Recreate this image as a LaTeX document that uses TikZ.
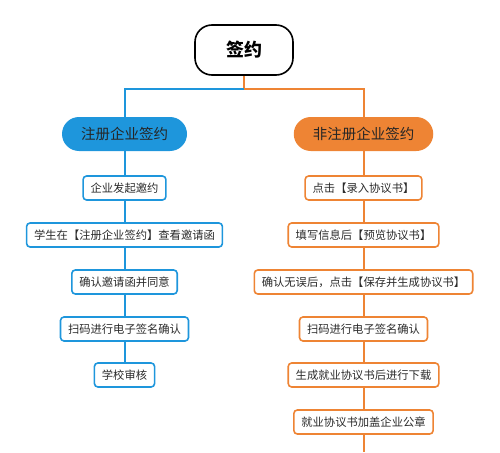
\documentclass[tikz,border=0pt]{standalone}
\usepackage{fontspec}
\setmainfont{Noto Sans CJK SC}
\usepackage{tikz}
\usetikzlibrary{positioning}
\definecolor{qianblue}{HTML}{1E96DC}
\definecolor{qianorange}{HTML}{EE8434}
\definecolor{boxtext}{HTML}{2B2B2B}

\begin{document}
\begin{tikzpicture}[x=1pt,y=-1pt]
\tikzset{rootbox/.style={draw=black,line width=1.6pt,rounded corners=17pt,minimum width=98pt,minimum height=50pt,font=\fontsize{18}{20}\selectfont\bfseries},
headbox/.style={rounded corners=17pt,minimum height=34pt,inner xsep=19pt,font=\fontsize{14.5}{16}\selectfont,text=black!85},
stepbox/.style={draw,fill=white,line width=1.6pt,rounded corners=3.5pt,minimum height=24pt,inner xsep=7.5pt,font=\fontsize{11.3}{13}\selectfont,text=boxtext},
blueline/.style={draw=qianblue,line width=2pt},
orangeline/.style={draw=qianorange,line width=2pt}}
\useasboundingbox (0,0) rectangle (500,452);
\node[rootbox] (root) at (244,50) {签约};
\coordinate (split) at (244,89);
\node[headbox,fill=qianblue] (l0) at (124.5,134) {注册企业签约};
\node[headbox,fill=qianorange] (r0) at (363.5,134) {非注册企业签约};
% left column
\node[stepbox,draw=qianblue] (l1) at (124.5,188) {企业发起邀约};
\node[stepbox,draw=qianblue] (l2) at (124.5,235) {学生在【注册企业签约】查看邀请函};
\node[stepbox,draw=qianblue] (l3) at (124.5,282) {确认邀请函并同意};
\node[stepbox,draw=qianblue] (l4) at (124.5,329) {扫码进行电子签名确认};
\node[stepbox,draw=qianblue] (l5) at (124.5,375) {学校审核};
% right column
\node[stepbox,draw=qianorange] (r1) at (363.5,188) {点击【录入协议书】};
\node[stepbox,draw=qianorange] (r2) at (363.5,235) {填写信息后【预览协议书】};
\node[stepbox,draw=qianorange] (r3) at (363.5,282) {确认无误后，点击【保存并生成协议书】};
\node[stepbox,draw=qianorange] (r4) at (363.5,329) {扫码进行电子签名确认};
\node[stepbox,draw=qianorange] (r5) at (363.5,375) {生成就业协议书后进行下载};
\node[stepbox,draw=qianorange] (r6) at (363.5,422) {就业协议书加盖企业公章};
\coordinate (rend) at (363.5,452);
\draw[orangeline] (root) -- (split) -| (r0);
\draw[blueline] (split) -| (l0);
\draw[blueline] (l0) -- (l1) (l1) -- (l2) (l2) -- (l3) (l3) -- (l4) (l4) -- (l5);
\draw[orangeline] (r0) -- (r1) (r1) -- (r2) (r2) -- (r3) (r3) -- (r4) (r4) -- (r5) (r5) -- (r6) (r6) -- (rend);
\end{tikzpicture}
\end{document}
